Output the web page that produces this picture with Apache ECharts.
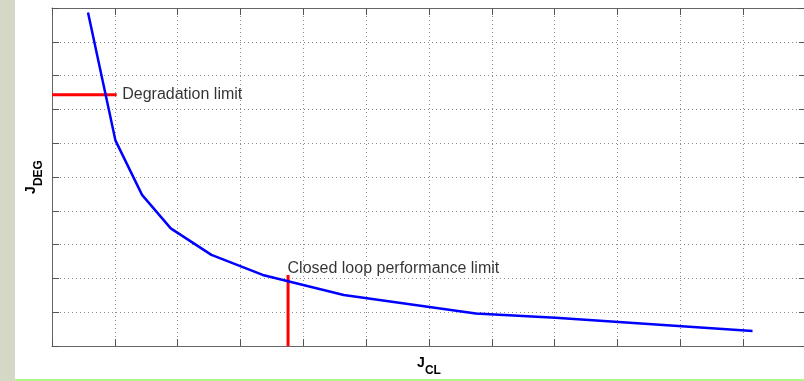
<!DOCTYPE html>
<html>
<head>
<meta charset="utf-8">
<script src="https://cdn.jsdelivr.net/npm/echarts@6/dist/echarts.min.js"></script>
<style>
  html, body { margin: 0; padding: 0; background: #fff; }
  #wrap { position: relative; width: 804px; height: 381px; background: #fff; overflow: hidden; }
  #strip { position: absolute; left: 0; top: 0; width: 15px; height: 381px; background: #d6d8c6; }
  #green { position: absolute; left: 15px; top: 379px; width: 789px; height: 2px; background: #b4f58a; }
  #chart { position: absolute; left: 0; top: 0; width: 804px; height: 381px; }
</style>
</head>
<body>
<div id="wrap">
  <div id="strip"></div>
  <div id="green"></div>
  <div id="chart"></div>
</div>
<script>
// ---- data ----
const xAxisMin = 0, xAxisMax = 12, xAxisStep = 1;
const yAxisMin = 0, yAxisMax = 10, yAxisStep = 1;

const curveX = [0.573, 1.009, 1.433, 1.890, 2.537, 3.354, 4.643, 6.745, 8.013, 11.149];
const curveY = [9.87, 6.085, 4.471, 3.479, 2.695, 2.102, 1.510, 0.962, 0.838, 0.444];

const degLimitX = [0, 1.03];
const degLimitY = 7.43;

const clLimitX = 3.757;
const clLimitY = [0, 2.10];

const annotationTexts = ['Degradation limit', 'Closed loop performance limit'];
const xAxisName = ['J', 'CL'];
const yAxisName = ['J', 'DEG'];

// ---- chart ----
const FONT = "'Liberation Sans', Arial, Helvetica, sans-serif";
const chart = echarts.init(document.getElementById('chart'), null, { renderer: 'canvas' });

const nameRich = {
  j: { fontFamily: FONT, fontSize: 14, fontWeight: 'bold', color: '#000', lineHeight: 14, padding: [0, 0, 8, 0] },
  s: { fontFamily: FONT, fontSize: 12, fontWeight: 'bold', color: '#000', lineHeight: 14, padding: [8, 0, 0, 0] }
};

const gridLine = { show: true, lineStyle: { color: '#8c8c8c', width: 1, type: [1, 3] } };
const axisLine = { show: true, onZero: false, lineStyle: { color: '#666', width: 1 } };
const axisTick = { show: true, inside: true, length: 7, lineStyle: { color: '#555', width: 1 } };

const curveData = curveX.map((x, i) => [x, curveY[i]]);
const degData = degLimitX.map(x => [x, degLimitY]);
const clData = clLimitY.map(y => [clLimitX, y]);

const labelData = [
  {
    value: [degLimitX[1], degLimitY],
    label: { show: true, formatter: annotationTexts[0], position: [6, 0], align: 'left', verticalAlign: 'middle' }
  },
  {
    value: [clLimitX, clLimitY[1]],
    label: { show: true, formatter: annotationTexts[1], position: [0, -6], align: 'left', verticalAlign: 'middle' }
  }
];

const option = {
  animation: false,
  backgroundColor: 'transparent',
  grid: { left: 52, top: 8, width: 754, height: 338, containLabel: false, outerBoundsMode: 'none' },
  xAxis: [
    {
      type: 'value', min: xAxisMin, max: xAxisMax, interval: xAxisStep, position: 'bottom',
      axisLine, axisTick, axisLabel: { show: false }, splitLine: gridLine,
      name: '{j|' + xAxisName[0] + '}{s|' + xAxisName[1] + '}',
      nameLocation: 'middle', nameGap: 14,
      nameTextStyle: { rich: nameRich }
    },
    {
      type: 'value', min: xAxisMin, max: xAxisMax, interval: xAxisStep, position: 'top',
      axisLine, axisTick, axisLabel: { show: false }, splitLine: { show: false }
    }
  ],
  yAxis: [
    {
      type: 'value', min: yAxisMin, max: yAxisMax, interval: yAxisStep, position: 'left',
      axisLine, axisTick, axisLabel: { show: false }, splitLine: gridLine,
      name: '{j|' + yAxisName[0] + '}{s|' + yAxisName[1] + '}',
      nameLocation: 'middle', nameGap: 10, nameRotate: 90,
      nameTextStyle: { rich: nameRich }
    },
    {
      type: 'value', min: yAxisMin, max: yAxisMax, interval: yAxisStep, position: 'right',
      axisLine, axisTick, axisLabel: { show: false }, splitLine: { show: false }
    }
  ],
  series: [
    {
      name: 'degradation limit', type: 'line', data: degData, symbol: 'none', z: 2,
      lineStyle: { color: '#ff0000', width: 3 }
    },
    {
      name: 'closed loop limit', type: 'line', data: clData, symbol: 'none', z: 2,
      lineStyle: { color: '#ff0000', width: 3 }
    },
    {
      name: 'trade-off curve', type: 'line', data: curveData, symbol: 'none', z: 3,
      lineStyle: { color: '#0000ff', width: 2.5 }
    },
    {
      name: 'annotations', type: 'scatter', data: labelData, symbol: 'circle', symbolSize: 1, z: 4,
      itemStyle: { color: 'rgba(0,0,0,0)' },
      label: { show: true, fontFamily: FONT, fontSize: 16, color: '#000' },
      emphasis: { disabled: true },
      silent: true
    }
  ]
};
chart.setOption(option);
</script>
</body>
</html>
